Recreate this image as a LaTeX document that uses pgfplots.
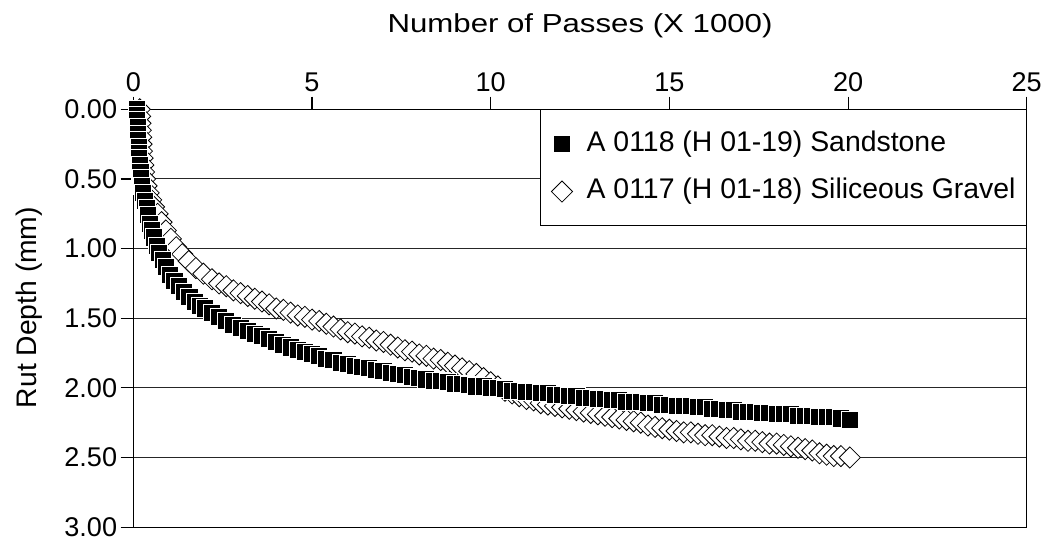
\documentclass[border=0pt]{standalone}
\usepackage{fontspec}
\setmainfont{Liberation Sans}
\newfontfamily\titlefont[FakeStretch=1.2]{Liberation Sans}
\usepackage{pgfplots}
\pgfplotsset{compat=1.18}
\begin{document}
\begin{tikzpicture}
\begin{axis}[
  scale only axis,
  width=670pt, height=313.3pt,
  xmin=0, xmax=25, ymin=0, ymax=3,
  y dir=reverse,
  xtick={0,5,10,15,20,25},
  ytick={0,0.5,1,1.5,2,2.5,3},
  xtick pos=upper, xticklabel pos=upper,
  ytick pos=left,
  tick align=outside,
  major tick length=9.5pt,
  tick style={black, line width=0.8pt},
  axis line style={black, line width=0.9pt},
  ymajorgrids,
  major grid style={black!85, line width=0.75pt},
  /pgf/number format/assume math mode=true,
  yticklabel style={/pgf/number format/.cd, fixed, fixed zerofill, precision=2, /tikz/.cd, inner xsep=2.5pt},
  ticklabel style={font=\fontsize{20.3}{23}\selectfont},
  xlabel={\titlefont Number of Passes (X 1000)},
  xlabel style={font=\fontsize{19.5}{22}\selectfont, yshift=19pt},
  ylabel={Rut Depth (mm)},
  ylabel style={font=\fontsize{21.2}{24}\selectfont, xshift=8pt, yshift=10.5pt},
  reverse legend,
  legend cell align=left,
  legend image code/.code={\draw[#1] plot coordinates {(0pt,0pt)};},
  legend style={at={(1,1)}, anchor=north east, draw=black, line width=0.8pt,
    inner xsep=8pt, inner ysep=16pt, row sep=16pt, column sep=10.6pt,
    font=\fontsize{21.3}{24}\selectfont,
    nodes={inner sep=0pt, text height=15pt, text depth=4.5pt}},
]
\addplot[only marks, mark=square*, mark size=5.6pt,
  mark options={rotate=45, draw=black, fill=white, line width=0.6pt}]
coordinates {
(0.18,0.00)(0.19,0.05)(0.20,0.10)(0.21,0.15)(0.22,0.20)(0.23,0.25)(0.24,0.30)(0.26,0.35)(0.28,0.40)(0.30,0.45)
(0.33,0.50)(0.37,0.55)(0.43,0.60)(0.50,0.65)(0.58,0.70)(0.68,0.75)(0.79,0.81)(0.91,0.87)(1.05,0.93)(1.20,0.99)
(1.37,1.04)(1.55,1.09)(1.75,1.14)(1.96,1.18)
(2.2,1.22)(2.4,1.25)(2.6,1.27)(2.8,1.30)(3.0,1.32)(3.2,1.34)(3.4,1.36)(3.6,1.38)(3.8,1.40)(4.0,1.43)
(4.2,1.44)(4.4,1.46)(4.6,1.48)(4.8,1.49)(5.0,1.51)(5.2,1.52)(5.4,1.54)(5.6,1.56)(5.8,1.58)(6.0,1.60)
(6.2,1.61)(6.4,1.63)(6.6,1.64)(6.8,1.66)(7.0,1.67)(7.2,1.69)(7.4,1.71)(7.6,1.73)(7.8,1.74)(8.0,1.76)
(8.2,1.77)(8.4,1.79)(8.6,1.80)(8.8,1.82)(9.0,1.84)(9.2,1.86)(9.4,1.88)(9.6,1.90)(9.8,1.93)(10.0,1.96)
(10.2,1.99)(10.4,2.02)(10.6,2.04)(10.8,2.06)(11.0,2.08)(11.2,2.09)(11.4,2.11)(11.6,2.12)(11.8,2.13)(12.0,2.14)
(12.2,2.15)(12.4,2.16)(12.6,2.17)(12.8,2.18)(13.0,2.19)(13.2,2.20)(13.4,2.21)(13.6,2.22)(13.8,2.23)(14.0,2.24)
(14.2,2.25)(14.4,2.27)(14.6,2.28)(14.8,2.29)(15.0,2.30)(15.2,2.31)(15.4,2.32)(15.6,2.32)(15.8,2.33)(16.0,2.34)
(16.2,2.34)(16.4,2.35)(16.6,2.36)(16.8,2.36)(17.0,2.37)(17.2,2.38)(17.4,2.38)(17.6,2.39)(17.8,2.40)(18.0,2.40)
(18.2,2.41)(18.4,2.42)(18.6,2.43)(18.8,2.44)(19.0,2.45)(19.2,2.47)(19.4,2.48)(19.6,2.49)(19.8,2.49)(20.05,2.50)
};
\addlegendentry{A 0117 (H 01-18) Siliceous Gravel}
\addplot[only marks, mark=square*, mark size=6.4pt,
  mark options={draw=white, fill=black, line width=0.7pt}]
coordinates {
(0.10,0.00)(0.10,0.04)(0.11,0.08)(0.12,0.13)(0.13,0.18)(0.14,0.22)(0.15,0.27)(0.16,0.31)(0.17,0.35)(0.18,0.40)
(0.20,0.45)(0.22,0.49)(0.25,0.55)(0.28,0.60)(0.32,0.66)(0.37,0.71)(0.42,0.76)(0.47,0.82)(0.52,0.87)(0.58,0.92)
(0.65,0.98)(0.73,1.03)(0.82,1.08)(0.92,1.13)(1.03,1.19)(1.15,1.23)(1.28,1.27)(1.42,1.31)(1.57,1.35)(1.73,1.38)
(1.87,1.41)
(2.0,1.43)(2.2,1.46)(2.4,1.49)(2.6,1.52)(2.8,1.55)(3.0,1.57)(3.2,1.59)(3.4,1.61)(3.6,1.63)(3.8,1.65)
(4.0,1.67)(4.2,1.69)(4.4,1.71)(4.6,1.73)(4.8,1.74)(5.0,1.76)(5.2,1.77)(5.4,1.79)(5.6,1.80)(5.8,1.82)
(6.0,1.83)(6.2,1.84)(6.4,1.85)(6.6,1.86)(6.8,1.87)(7.0,1.88)(7.2,1.89)(7.4,1.90)(7.6,1.91)(7.8,1.92)
(8.0,1.93)(8.2,1.94)(8.4,1.95)(8.6,1.95)(8.8,1.96)(9.0,1.97)(9.2,1.97)(9.4,1.98)(9.6,1.99)(9.8,1.99)
(10.0,2.00)(10.2,2.00)(10.4,2.01)(10.6,2.02)(10.8,2.02)(11.0,2.03)(11.2,2.03)(11.4,2.04)(11.6,2.04)(11.8,2.05)
(12.0,2.05)(12.2,2.06)(12.4,2.06)(12.6,2.07)(12.8,2.07)(13.0,2.08)(13.2,2.08)(13.4,2.09)(13.6,2.09)(13.8,2.10)
(14.0,2.10)(14.2,2.10)(14.4,2.11)(14.6,2.11)(14.8,2.12)(15.0,2.12)(15.2,2.13)(15.4,2.13)(15.6,2.13)(15.8,2.14)
(16.0,2.14)(16.2,2.15)(16.4,2.15)(16.6,2.16)(16.8,2.16)(17.0,2.17)(17.2,2.17)(17.4,2.17)(17.6,2.18)(17.8,2.18)
(18.0,2.19)(18.2,2.19)(18.4,2.19)(18.6,2.20)(18.8,2.20)(19.0,2.20)(19.2,2.21)(19.4,2.21)(19.6,2.21)(19.8,2.22)
(20.05,2.23)
};
\addlegendentry{A 0118 (H 01-19) Sandstone}
\end{axis}
\pgfresetboundingbox
\path[use as bounding box] ([shift={(-100pt,-14.25pt)}]current axis.south west) rectangle ([shift={(16.7pt,82pt)}]current axis.north east);
\end{tikzpicture}
\end{document}
